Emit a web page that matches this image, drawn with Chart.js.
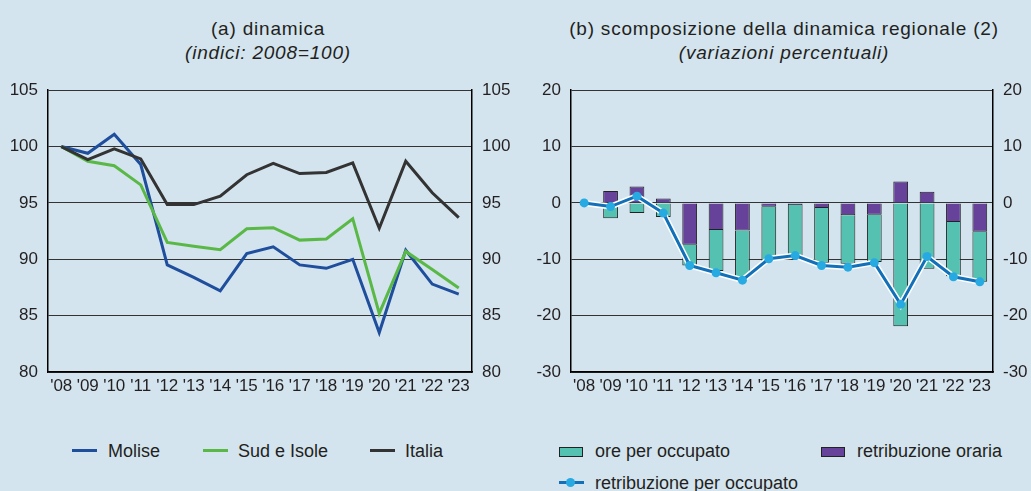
<!DOCTYPE html>
<html>
<head>
<meta charset="utf-8">
<script src="https://cdn.jsdelivr.net/npm/chart.js@4/dist/chart.umd.min.js"></script>
<style>
  body { margin: 0; background: #d3e4ee; }
  #wrap { position: relative; width: 1031px; height: 491px; background: #d3e4ee; overflow: hidden;
          font-family: "Liberation Sans", Arial, sans-serif; color: #231f20; }
  canvas { position: absolute; }
  .title { position: absolute; font-size: 19px; letter-spacing: 0.8px; white-space: nowrap; transform: translate(-50%, -50%); }
  .title i { font-style: italic; }
  .leg { position: absolute; font-size: 18px; white-space: nowrap; transform: translateY(-50%); }
  .sw { position: absolute; }
</style>
</head>
<body>
<div id="wrap">
  <div class="title" style="left:268px; top:29px;">(a) dinamica</div>
  <div class="title" style="left:268px; top:53px;"><i>(indici: 2008=100)</i></div>
  <div class="title" style="left:784px; top:29px;">(b) scomposizione della dinamica regionale (2)</div>
  <div class="title" style="left:784px; top:53px;"><i>(variazioni percentuali)</i></div>

  <canvas id="chartA" width="520" height="345" style="left:0; top:70px;"></canvas>
  <canvas id="chartB" width="511" height="345" style="left:520px; top:70px;"></canvas>

  <!-- legenda (a) -->
  <div class="sw" style="left:72px; top:449px; width:25px; height:3px; background:#1f4e9c;"></div>
  <div class="leg" style="left:108px; top:451px;">Molise</div>
  <div class="sw" style="left:203px; top:449px; width:25px; height:3px; background:#5ab946;"></div>
  <div class="leg" style="left:238px; top:451px;">Sud e Isole</div>
  <div class="sw" style="left:370px; top:449px; width:25px; height:3px; background:#333333;"></div>
  <div class="leg" style="left:405px; top:451px;">Italia</div>

  <!-- legenda (b) -->
  <div class="sw" style="left:559px; top:447px; width:22px; height:8px; background:#55c1b1; border:1px solid #222;"></div>
  <div class="leg" style="left:595px; top:451px;">ore per occupato</div>
  <div class="sw" style="left:821px; top:447px; width:22px; height:8px; background:#66429a; border:1px solid #222;"></div>
  <div class="leg" style="left:857px; top:451px;">retribuzione oraria</div>
  <div class="sw" style="left:559px; top:481px; width:25px; height:3px; background:#1170b8;"></div>
  <div class="sw" style="left:566px; top:478px; width:9px; height:9px; border-radius:50%; background:#27aae1;"></div>
  <div class="leg" style="left:595px; top:483px;">retribuzione per occupato</div>
</div>

<script>
// anni
const years = ["'08", "'09", "'10", "'11", "'12", "'13", "'14", "'15", "'16", "'17", "'18", "'19", "'20", "'21", "'22", "'23"];

// (a) indici 2008=100
const molise = [100, 99.4, 101.1, 98.4, 89.5, 88.4, 87.2, 90.5, 91.1, 89.5, 89.2, 90.0, 83.5, 90.8, 87.8, 86.9];
const sudIsole = [100, 98.7, 98.3, 96.6, 91.5, 91.15, 90.85, 92.7, 92.8, 91.7, 91.8, 93.6, 85.2, 90.7, 89.1, 87.45];
const italia = [100, 98.85, 99.8, 98.9, 94.85, 94.85, 95.6, 97.5, 98.5, 97.6, 97.7, 98.55, 92.75, 98.7, 95.9, 93.7];
const ticksA = [80, 85, 90, 95, 100, 105];

// (b) variazioni percentuali
const orePerOccupato = [0, -2.7, -1.8, -2.5, -3.7, -7.3, -8.4, -9.6, -9.1, -9.7, -8.6, -8.4, -21.9, -11.7, -9.6, -8.9];
const retribOraria = [0, 2.1, 2.9, 0.8, -7.4, -4.8, -4.9, -0.7, -0.35, -0.9, -2.2, -2.1, 3.8, 2.0, -3.4, -5.1];
const retribPerOccupato = [0, -0.65, 1.2, -1.8, -11.1, -12.4, -13.7, -9.9, -9.35, -11.1, -11.4, -10.6, -18.0, -9.5, -13.1, -14.0];
const ticksB = [-30, -20, -10, 0, 10, 20];

Chart.defaults.font.family = '"Liberation Sans", Arial, sans-serif';
Chart.defaults.font.size = 17;
Chart.defaults.color = '#231f20';

// larghezza fissa degli assi, per allineare l'area del grafico
const fixWidth = w => scale => { scale.width = w; };

function yAxis(pos, ticks, width, grid) {
    return {
        position: pos,
        min: ticks[0],
        max: ticks[ticks.length - 1],
        afterBuildTicks: s => { s.ticks = ticks.map(v => ({ value: v })); },
        afterFit: fixWidth(width),
        grid: { display: grid, color: '#333', lineWidth: 1, drawTicks: false },
        border: { display: true, color: '#000', width: 1.5 },
        ticks: { padding: 10, autoSkip: false }
    };
}

const xAxis = {
    offset: true,
    grid: { display: false, drawTicks: false },
    border: { display: true, color: '#000', width: 1.5 },
    ticks: { autoSkip: false, maxRotation: 0, minRotation: 0, padding: 4 }
};

const pad = { top: 19, bottom: 14.6 };

new Chart(document.getElementById('chartA'), {
    type: 'line',
    data: {
        labels: years,
        datasets: [
            { label: 'Italia', data: italia, borderColor: '#333333', borderWidth: 3, pointRadius: 0, tension: 0 },
            { label: 'Sud e Isole', data: sudIsole, borderColor: '#5ab946', borderWidth: 3, pointRadius: 0, tension: 0 },
            { label: 'Molise', data: molise, borderColor: '#1f4e9c', borderWidth: 3, pointRadius: 0, tension: 0 }
        ]
    },
    options: {
        responsive: false,
        animation: false,
        layout: { padding: pad },
        scales: {
            x: xAxis,
            y: yAxis('left', ticksA, 48, true),
            y2: yAxis('right', ticksA, 48, false)
        },
        plugins: { legend: { display: false }, tooltip: { enabled: false } }
    }
});

new Chart(document.getElementById('chartB'), {
    type: 'bar',
    data: {
        labels: years,
        datasets: [
            { type: 'line', label: 'retribuzione per occupato', data: retribPerOccupato, order: 0,
              borderColor: '#1170b8', borderWidth: 3, pointRadius: 4.5, pointBackgroundColor: '#27aae1',
              pointBorderWidth: 0, tension: 0 },
            // bordo bianco sotto la linea
            { type: 'line', label: '', data: retribPerOccupato, order: 1,
              borderColor: '#ffffff', borderWidth: 6, pointRadius: 0, tension: 0 },
            { label: 'retribuzione oraria', data: retribOraria, stack: 'a', order: 2,
              backgroundColor: '#66429a', borderColor: '#222', borderWidth: 1,
              barPercentage: 0.56, categoryPercentage: 1 },
            { label: 'ore per occupato', data: orePerOccupato, stack: 'a', order: 3,
              backgroundColor: '#55c1b1', borderColor: '#222', borderWidth: 1,
              barPercentage: 0.56, categoryPercentage: 1 }
        ]
    },
    options: {
        responsive: false,
        animation: false,
        layout: { padding: pad },
        scales: {
            x: xAxis,
            y: yAxis('left', ticksB, 51, true),
            y2: yAxis('right', ticksB, 38, false)
        },
        plugins: { legend: { display: false }, tooltip: { enabled: false } }
    }
});
</script>
</body>
</html>
